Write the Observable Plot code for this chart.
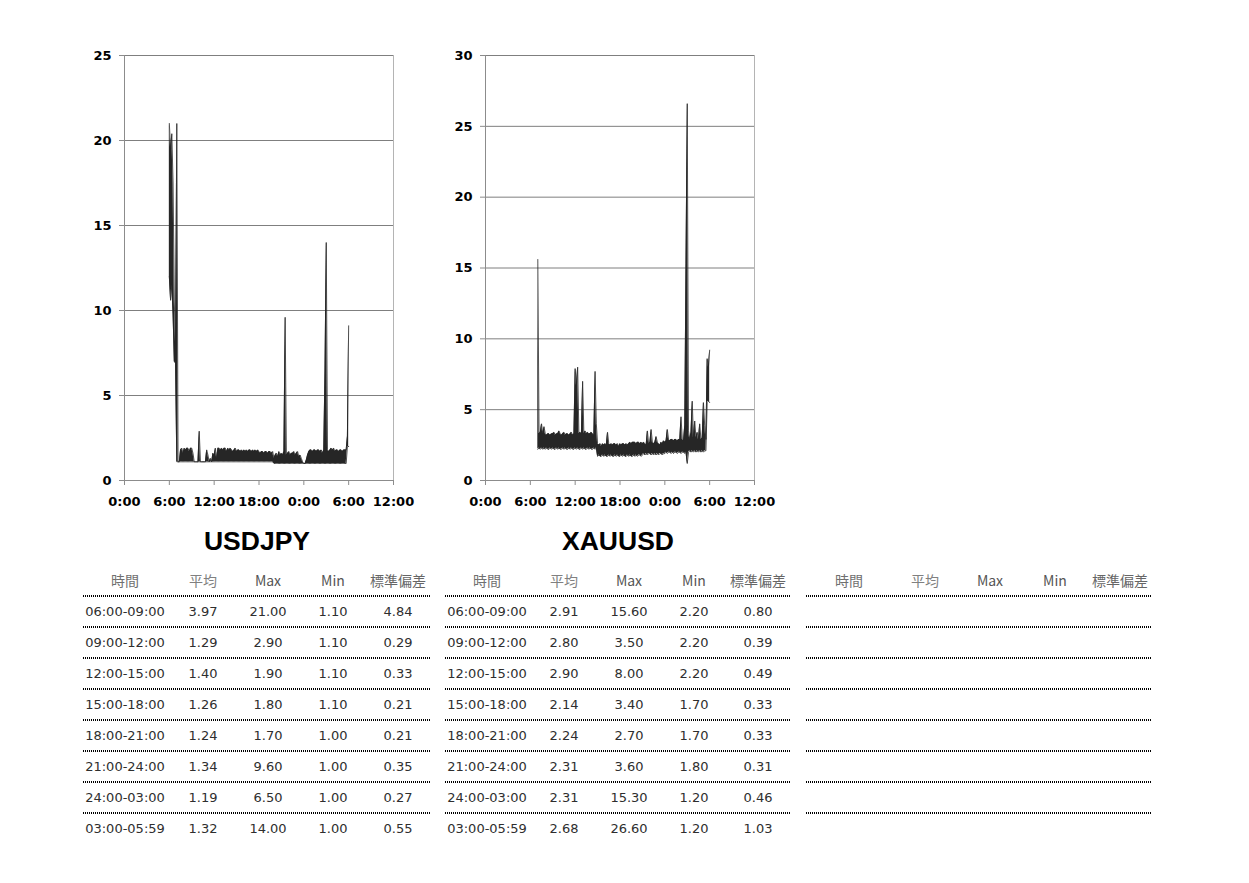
<!DOCTYPE html>
<html>
<head>
<meta charset="utf-8">
<script src="https://cdn.jsdelivr.net/npm/d3@7"></script>
<script src="https://cdn.jsdelivr.net/npm/@observablehq/plot@0.6"></script>
<style>
  html, body { margin: 0; padding: 0; background: #fff; }
  #page { position: relative; width: 1249px; height: 883px; overflow: hidden; background: #fff; }
  .chart { position: absolute; top: 0; }
  #overlay { position: absolute; left: 0; top: 0; }
</style>
</head>
<body>
<div id="page">
  <div id="c1" class="chart" style="left:0px"></div>
  <div id="c2" class="chart" style="left:361px"></div>
  <svg id="overlay" width="1249" height="883"></svg>
</div>
<script>
// ---------- data ----------
const symbols = ["USDJPY", "XAUUSD"];
const xTicks = [0, 6, 12, 18, 24, 30, 36];          // hours from day-1 0:00
const usdjpyYTicks = [0, 5, 10, 15, 20, 25];
const xauusdYTicks = [0, 5, 10, 15, 20, 25, 30];
const bucketMinutes = 10;
const usdjpyStartHour = 6;   // 6:00 day 1
const xauusdStartHour = 7;   // 7:00 day 1

// spread per 10-minute bucket: highest and lowest value seen
const usdjpyHigh = [
  21.0, 19.5, 20.4, 17.5, 10.5, 8.0,
  21.0, 1.1, 1.1, 1.8, 1.9, 1.6,
  1.9, 1.8, 1.9, 1.9, 1.7, 1.9,
  1.9, 1.6, 1.1, 1.1, 1.1, 1.1,
  2.9, 1.1, 1.1, 1.1, 1.1, 1.1,
  1.8, 1.5, 1.1, 1.3, 1.1, 1.6,
  1.5, 1.9, 1.3, 1.9, 1.9, 1.8,
  1.9, 1.8, 1.9, 1.9, 1.7, 1.9,
  1.8, 1.9, 1.8, 1.7, 1.8, 1.9,
  1.7, 1.8, 1.8, 1.7, 1.8, 1.7,
  1.8, 1.7, 1.8, 1.7, 1.8, 1.8,
  1.7, 1.8, 1.7, 1.8, 1.7, 1.8,
  1.7, 1.6, 1.7, 1.7, 1.6, 1.7,
  1.7, 1.6, 1.7, 1.7, 1.6, 1.7,
  1.3, 1.5, 1.6, 1.4, 1.7, 1.5,
  1.6, 1.5, 1.7, 9.6, 1.5, 1.6,
  1.7, 1.5, 1.6, 1.6, 1.7, 1.5,
  1.6, 1.7, 1.4, 1.5, 1.3, 1.1,
  1.0, 1.0, 1.2, 1.5, 1.7, 1.8,
  1.8, 1.7, 1.8, 1.8, 1.7, 1.8,
  1.8, 1.7, 1.8, 1.6, 1.8, 6.5,
  14.0, 1.8, 1.7, 1.8, 1.9, 1.8,
  1.9, 1.7, 1.8, 1.8, 1.7, 1.8,
  1.8, 1.7, 1.8, 1.8, 1.8, 2.6,
  9.1
];
const usdjpyLow = [
  12.0, 10.6, 11.5, 9.8, 7.0, 6.9,
  1.1, 1.1, 1.1, 1.1, 1.1, 1.1,
  1.1, 1.1, 1.1, 1.1, 1.1, 1.1,
  1.1, 1.1, 1.1, 1.1, 1.1, 1.1,
  1.1, 1.1, 1.1, 1.1, 1.1, 1.1,
  1.1, 1.1, 1.1, 1.1, 1.1, 1.1,
  1.1, 1.1, 1.1, 1.1, 1.1, 1.1,
  1.1, 1.1, 1.1, 1.1, 1.1, 1.1,
  1.1, 1.1, 1.1, 1.1, 1.1, 1.1,
  1.1, 1.1, 1.1, 1.1, 1.1, 1.1,
  1.1, 1.1, 1.1, 1.1, 1.1, 1.1,
  1.1, 1.1, 1.1, 1.1, 1.1, 1.1,
  1.1, 1.1, 1.1, 1.1, 1.1, 1.1,
  1.1, 1.1, 1.1, 1.1, 1.1, 1.1,
  1.0, 1.0, 1.0, 1.0, 1.0, 1.0,
  1.0, 1.0, 1.0, 1.0, 1.0, 1.0,
  1.0, 1.0, 1.0, 1.0, 1.0, 1.0,
  1.0, 1.0, 1.0, 1.0, 1.0, 1.0,
  1.0, 1.0, 1.0, 1.0, 1.0, 1.0,
  1.0, 1.0, 1.0, 1.0, 1.0, 1.0,
  1.0, 1.0, 1.0, 1.0, 1.0, 1.0,
  1.0, 1.0, 1.0, 1.0, 1.0, 1.0,
  1.0, 1.0, 1.0, 1.0, 1.0, 1.0,
  1.0, 1.0, 1.0, 1.0, 1.0, 2.0,
  2.0
];
const xauusdHigh = [
  15.6, 3.3, 3.4, 4.0, 3.3, 3.8,
  3.3, 3.2, 3.3, 3.3, 3.2, 3.3,
  3.3, 3.4, 3.2, 3.3, 3.3, 3.5,
  3.3, 3.2, 3.3, 3.4, 3.2, 3.3,
  3.3, 3.2, 3.3, 3.4, 3.2, 3.3,
  7.9, 6.7, 8.0, 3.3, 3.4, 3.3,
  7.0, 3.3, 3.5, 3.3, 3.4, 3.3,
  3.3, 3.4, 3.3, 3.2, 7.7, 4.0,
  2.6, 2.5, 2.6, 2.4, 2.6, 2.5,
  2.6, 2.5, 3.4, 2.6, 2.5, 2.6,
  2.5, 2.6, 2.6, 2.5, 2.6, 2.4,
  2.6, 2.5, 2.6, 2.6, 2.5, 2.6,
  2.5, 2.6, 2.7, 2.6, 2.7, 2.7,
  2.7, 2.6, 2.7, 2.7, 2.6, 2.7,
  2.6, 2.7, 2.6, 2.5, 3.5, 2.6,
  2.7, 3.6, 2.7, 2.6, 2.7, 3.1,
  2.7, 2.6, 2.5, 2.7, 2.6, 2.8,
  2.7, 2.8, 3.6, 2.9, 2.8, 2.9,
  2.9, 2.8, 2.9, 2.9, 2.8, 2.9,
  2.9, 4.5, 2.9, 2.8, 3.9, 15.3,
  26.6, 3.5, 2.9, 3.4, 5.6, 3.0,
  4.2, 3.0, 3.4, 2.9, 4.0, 2.9,
  3.0, 5.5, 3.9, 2.9, 8.6, 8.0, 9.2
];
const xauusdLow = [
  2.2, 2.3, 2.2, 2.3, 2.2, 2.3,
  2.2, 2.3, 2.2, 2.2, 2.3, 2.2,
  2.3, 2.2, 2.2, 2.3, 2.2, 2.3,
  2.2, 2.2, 2.3, 2.2, 2.3, 2.2,
  2.2, 2.3, 2.2, 2.3, 2.2, 2.2,
  2.3, 2.2, 2.3, 2.2, 2.2, 2.3,
  2.2, 2.3, 2.2, 2.2, 2.3, 2.2,
  2.3, 2.2, 2.2, 2.3, 2.2, 2.3,
  1.7, 1.8, 1.7, 1.7, 1.8, 1.7,
  1.8, 1.7, 1.7, 1.8, 1.7, 1.8,
  1.7, 1.7, 1.8, 1.7, 1.8, 1.7,
  1.7, 1.8, 1.7, 1.8, 1.7, 1.7,
  1.8, 1.7, 1.8, 1.7, 1.7, 1.8,
  1.7, 1.8, 1.7, 1.8, 1.8, 1.7,
  1.8, 1.9, 1.8, 1.9, 1.8, 1.9,
  1.9, 1.8, 1.9, 1.8, 1.9, 1.8,
  1.9, 1.8, 1.9, 1.9, 1.8, 1.9,
  1.9, 2.0, 1.9, 2.0, 2.0, 1.9,
  2.0, 1.9, 2.0, 2.0, 1.9, 2.0,
  2.0, 1.9, 2.0, 2.0, 1.9, 2.0,
  1.2, 2.0, 2.1, 2.0, 2.1, 2.0,
  2.1, 2.0, 2.1, 2.0, 2.1, 2.0,
  2.1, 2.0, 2.1, 2.1, 5.5, 5.6, 5.5
];

// statistics tables
const tableHeaders = ["時間", "平均", "Max", "Min", "標準偏差"];
const periods = ["06:00-09:00", "09:00-12:00", "12:00-15:00", "15:00-18:00",
                 "18:00-21:00", "21:00-24:00", "24:00-03:00", "03:00-05:59"];
const usdjpyMean = [3.97, 1.29, 1.40, 1.26, 1.24, 1.34, 1.19, 1.32];
const usdjpyMax  = [21.00, 2.90, 1.90, 1.80, 1.70, 9.60, 6.50, 14.00];
const usdjpyMin  = [1.10, 1.10, 1.10, 1.10, 1.00, 1.00, 1.00, 1.00];
const usdjpyStd  = [4.84, 0.29, 0.33, 0.21, 0.21, 0.35, 0.27, 0.55];
const xauusdMean = [2.91, 2.80, 2.90, 2.14, 2.24, 2.31, 2.31, 2.68];
const xauusdMax  = [15.60, 3.50, 8.00, 3.40, 2.70, 3.60, 15.30, 26.60];
const xauusdMin  = [2.20, 2.20, 2.20, 1.70, 1.70, 1.80, 1.20, 1.20];
const xauusdStd  = [0.80, 0.39, 0.49, 0.33, 0.33, 0.31, 0.46, 1.03];

// ---------- charts ----------
function toBuckets(high, low, startHour) {
  return high.map((hi, i) => ({t: startHour + i * bucketMinutes / 60, hi, lo: low[i]}));
}
const fmtHour = h => `${h % 24}:00`;
const axisFont = {fontSize: 13, fontWeight: "bold", fontFamily: "'DejaVu Sans', sans-serif"};

function spreadChart(data, yTicks) {
  const yMax = yTicks[yTicks.length - 1];
  return Plot.plot({
    width: 420, height: 520,
    marginLeft: 124, marginRight: 27, marginTop: 55, marginBottom: 40,
    x: {domain: [0, 36], label: null},
    y: {domain: [0, yMax], label: null},
    style: {fontFamily: "'DejaVu Sans', sans-serif", fontSize: "13px", fontWeight: "bold", color: "#000", background: "transparent", overflow: "visible"},
    marks: [
      Plot.gridY(yTicks.filter(d => d > 0), {stroke: "#7f7f7f", strokeOpacity: 1}),
      Plot.ruleX([36], {stroke: "#b4b4b4"}),
      Plot.ruleX([0], {stroke: "#8c8c8c"}),
      Plot.ruleY([0], {stroke: "#8c8c8c"}),
      Plot.areaY(data, {x: "t", y1: "lo", y2: "hi", fill: "#262626"}),
      Plot.lineY(data, {x: "t", y: "hi", stroke: "#262626", strokeWidth: 0.8}),
      Plot.lineY(data, {x: "t", y: "lo", stroke: "#262626", strokeWidth: 0.8}),
      Plot.axisY({ticks: yTicks, tickSize: 5, tickPadding: 8, stroke: "#8c8c8c", fill: "#000", ...axisFont}),
      Plot.axisX({ticks: xTicks, tickFormat: fmtHour, tickSize: 5, tickPadding: 11, stroke: "#8c8c8c", fill: "#000", ...axisFont})
    ]
  });
}

document.getElementById("c1").append(spreadChart(toBuckets(usdjpyHigh, usdjpyLow, usdjpyStartHour), usdjpyYTicks));
document.getElementById("c2").append(spreadChart(toBuckets(xauusdHigh, xauusdLow, xauusdStartHour), xauusdYTicks));

// ---------- titles and tables ----------
const svg = d3.select("#overlay");
const titleX = [257, 618];
svg.selectAll("text.title").data(symbols).join("text")
  .attr("class", "title")
  .attr("x", (d, i) => titleX[i]).attr("y", 550)
  .attr("text-anchor", "middle")
  .style("font-family", "'Liberation Sans', Arial, sans-serif")
  .style("font-weight", "bold").style("font-size", "26.5px").attr("fill", "#000")
  .text(d => d);

const tables = [
  {x0: 83, x1: 430, cols: [125, 203, 268, 333, 398], columns: [periods, usdjpyMean, usdjpyMax, usdjpyMin, usdjpyStd]},
  {x0: 445, x1: 790, cols: [487, 564, 629, 694, 758], columns: [periods, xauusdMean, xauusdMax, xauusdMin, xauusdStd]},
  {x0: 806, x1: 1152, cols: [849, 925, 990, 1055, 1120], columns: null}
];
const headerY = 580, firstRowY = 611, rowStep = 31, nRows = periods.length;
const headerColors = ["#707070", "#808080", "#555", "#555", "#666"];

tables.forEach(tb => {
  const g = svg.append("g");
  g.selectAll("text.h").data(tableHeaders).join("text")
    .attr("x", (d, i) => tb.cols[i]).attr("y", headerY)
    .attr("text-anchor", "middle").attr("dominant-baseline", "central")
    .style("font-family", "'Noto Sans CJK JP', sans-serif").style("font-size", "14px")
    .attr("fill", (d, i) => headerColors[i])
    .text(d => d);
  // dotted separators: under header and between rows
  const lineYs = d3.range(nRows).map(k => headerY + 16 + k * rowStep);
  g.selectAll("line").data(lineYs).join("line")
    .attr("x1", tb.x0).attr("x2", tb.x1).attr("y1", d => d).attr("y2", d => d)
    .attr("stroke", "#000").attr("stroke-width", 2).attr("stroke-dasharray", "1 1")
    .attr("shape-rendering", "crispEdges");
  if (tb.columns) {
    tb.columns.forEach((col, ci) => {
      g.selectAll(null).data(col).join("text")
        .attr("x", tb.cols[ci]).attr("y", (d, r) => firstRowY + r * rowStep)
        .attr("text-anchor", "middle").attr("dominant-baseline", "central")
        .style("font-family", "'DejaVu Sans', sans-serif").style("font-size", "13px")
        .attr("fill", "#2e2e2e")
        .text(d => typeof d === "number" ? d.toFixed(2) : d);
    });
  }
});
</script>
</body>
</html>
